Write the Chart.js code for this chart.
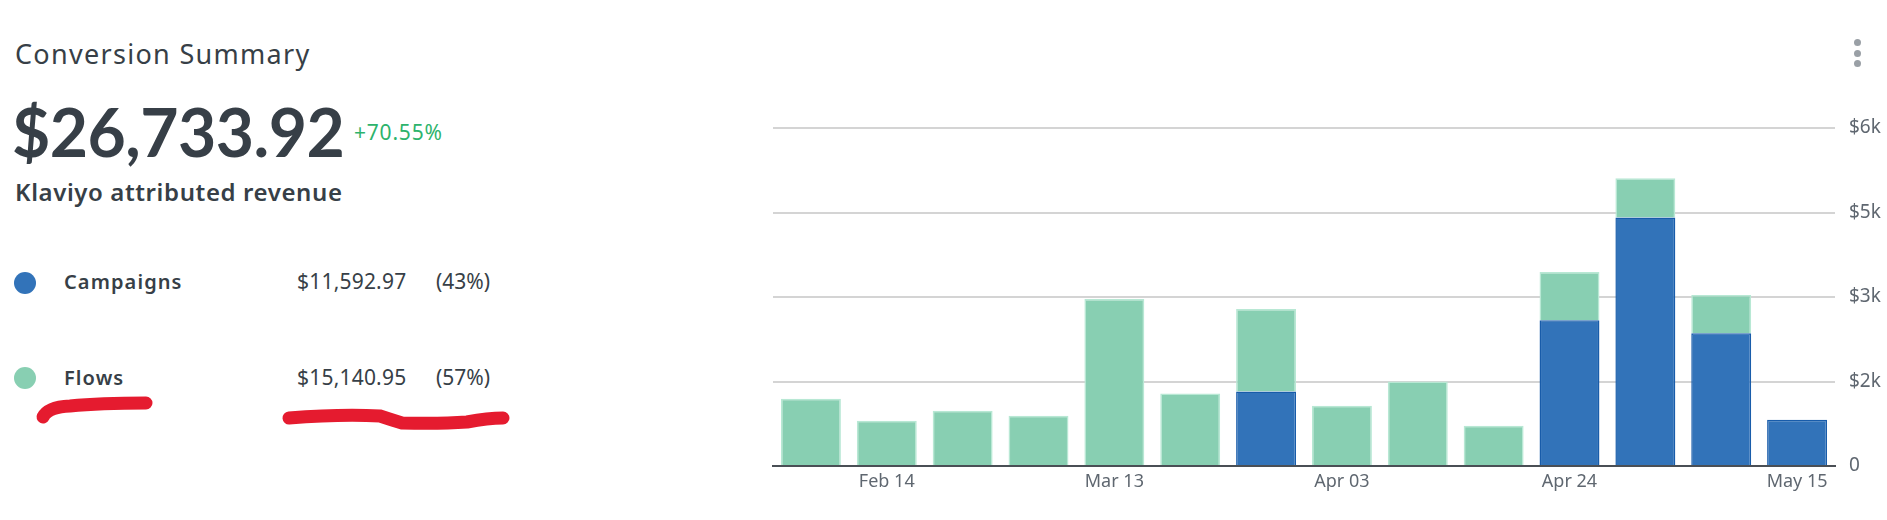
<!DOCTYPE html>
<html>
<head>
<meta charset="utf-8">
<script src="https://cdn.jsdelivr.net/npm/chart.js@4"></script>
<style>
  body { margin: 0; background: #fff; font-family: "Noto Sans", Lato, sans-serif; color: #373f47; }
  #page { position: relative; width: 1887px; height: 520px; overflow: hidden; }
  .abs { position: absolute; white-space: nowrap; }
  .dot { position: absolute; width: 22px; height: 22px; border-radius: 50%; }
  .menu i { display: block; width: 7px; height: 7px; border-radius: 50%; background: #9aa0a6; margin-bottom: 3.5px; }
  #chartBox { position: absolute; left: 760px; top: 100px; width: 1127px; height: 420px; }
</style>
</head>
<body>
<div id="page">
  <div class="abs" style="left:15px;top:35px;font-size:27px;letter-spacing:1.3px;">Conversion Summary</div>
  <div class="abs" style="left:12px;top:92px;font-family:Lato;font-size:66px;font-weight:700;letter-spacing:-0.5px;">$26,733.92</div>
  <div class="abs" style="left:354px;top:118px;font-size:21px;letter-spacing:0.8px;color:#2db36c;">+70.55%</div>
  <div class="abs" style="left:15px;top:175px;font-size:24px;font-weight:600;letter-spacing:0.6px;">Klaviyo attributed revenue</div>

  <div class="dot" style="left:14px;top:272px;background:#3273b9;"></div>
  <div class="abs" style="left:64px;top:268px;font-size:20px;font-weight:600;letter-spacing:1.1px;">Campaigns</div>
  <div class="abs" style="left:297px;top:267px;font-size:21px;letter-spacing:0.2px;">$11,592.97</div>
  <div class="abs" style="left:436px;top:267px;font-size:21px;">(43%)</div>

  <div class="dot" style="left:14px;top:367px;background:#88cfb2;"></div>
  <div class="abs" style="left:64px;top:364px;font-size:20px;font-weight:600;letter-spacing:1.1px;">Flows</div>
  <div class="abs" style="left:297px;top:363px;font-size:21px;letter-spacing:0.2px;">$15,140.95</div>
  <div class="abs" style="left:436px;top:363px;font-size:21px;">(57%)</div>

  <svg class="abs" style="left:0;top:0;" width="560" height="460">
    <path d="M43 417 Q48 407 70 406 Q100 403 146 403" stroke="#e51b2f" stroke-width="13" fill="none" stroke-linecap="round"/>
    <path d="M289 418 Q340 414 380 416 Q392 420 402 423 Q440 424 467 422 Q488 418 503 418" stroke="#e51b2f" stroke-width="13" fill="none" stroke-linecap="round"/>
  </svg>

  <div class="abs menu" style="left:1854px;top:39px;"><i></i><i></i><i></i></div>

  <div id="chartBox"><canvas id="myChartmain"></canvas></div>
</div>
<script>
  var weeks = ['', 'Feb 14', '', '', 'Mar 13', '', '', 'Apr 03', '', '', 'Apr 24', '', '', 'May 15'];
  var campaigns = [null, null, null, null, null, null, 1321, null, null, null, 2589, 4411, 2357, 821];
  var flows = [1196, 804, 982, 893, 2964, 1286, 1465, 1071, 1500, 714, 857, 696, 679, null];
  var yTickValues = [0, 1500, 3000, 4500, 6000];
  var yTickLabels = ['0', '$2k', '$3k', '$5k', '$6k'];

  var ctx = document.getElementById('myChartmain').getContext('2d');
  var myChart = new Chart(ctx, {
      type: 'bar',
      data: {
          labels: weeks,
          datasets: [{
              label: 'Campaigns',
              data: campaigns,
              backgroundColor: 'rgba(50, 115, 185, 1)',
              borderColor: 'rgba(24, 92, 170, 1)',
              borderWidth: 1.5
          }, {
              label: 'Flows',
              data: flows,
              backgroundColor: 'rgba(136, 207, 178, 1)',
              borderColor: 'rgba(184, 232, 212, 1)',
              borderWidth: 1.5
          }]
      },
      options: {
          responsive: true,
          maintainAspectRatio: false,
          animation: false,
          barPercentage: 0.79,
          categoryPercentage: 1,
          layout: { padding: { left: 13, top: 28, right: 0, bottom: 0 } },
          plugins: { legend: { display: false }, tooltip: { enabled: false } },
          scales: {
              x: {
                  stacked: true,
                  grid: { display: false, drawTicks: false },
                  border: { display: true, color: '#4a4f55', width: 2 },
                  ticks: {
                      autoSkip: false, maxRotation: 0, padding: 5,
                      color: '#5f6770', font: { family: 'Noto Sans', size: 18 }
                  },
                  afterFit: function (s) { s.height = 54; }
              },
              y: {
                  stacked: true,
                  position: 'right',
                  min: 0,
                  max: 6000,
                  afterBuildTicks: function (s) {
                      s.ticks = yTickValues.map(function (v) { return { value: v }; });
                  },
                  grid: { color: '#d4d4d4', lineWidth: 2, drawTicks: false },
                  border: { display: false },
                  ticks: {
                      padding: 14,
                      color: '#5f6770', font: { family: 'Noto Sans', size: 19 },
                      callback: function (v) { return yTickLabels[yTickValues.indexOf(v)]; }
                  },
                  afterFit: function (s) { s.width = 52; }
              }
          }
      }
  });
</script>
</body>
</html>
